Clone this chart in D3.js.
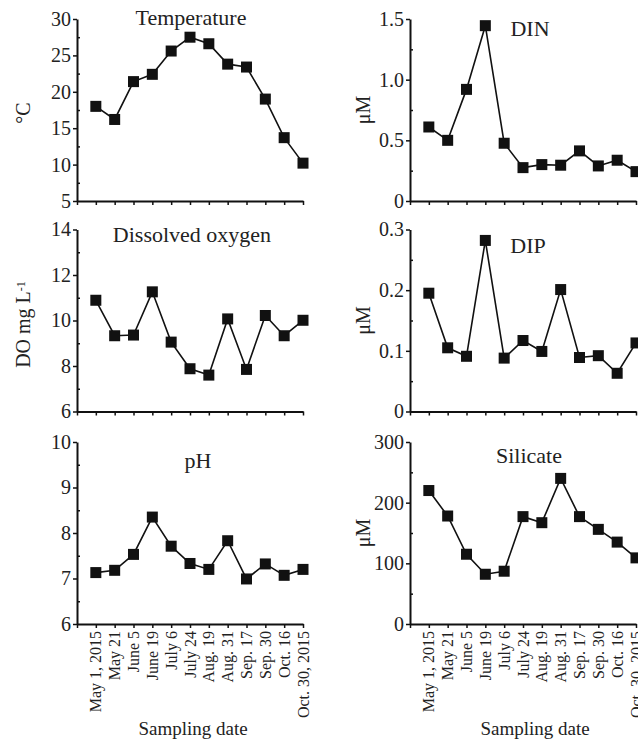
<!DOCTYPE html>
<html>
<head>
<meta charset="utf-8">
<script src="https://cdn.jsdelivr.net/npm/d3@7"></script>
<style>
  body { margin: 0; background: #fff; }
  svg { display: block; font-family: "Liberation Serif", "Times New Roman", serif; }
  svg text { font-family: "Liberation Serif", "Times New Roman", serif; }
</style>
</head>
<body>
<div id="chart"></div>
<script>
(function() {
  var width = 638, height = 739;

  // sampling dates (x categories)
  var dates = ["May 1, 2015", "May 21", "June 5", "June 19", "July 6", "July 24",
    "Aug. 19", "Aug. 31", "Sep. 17", "Sep. 30", "Oct. 16", "Oct. 30, 2015"];

  // series values
  var temperature = [18.0, 16.2, 21.4, 22.4, 25.6, 27.5, 26.6, 23.8, 23.4, 19.0, 13.7, 10.2];
  var din = [0.61, 0.50, 0.92, 1.445, 0.476, 0.275, 0.30, 0.295, 0.413, 0.289, 0.336, 0.242];
  var dissolvedOxygen = [10.89, 9.33, 9.36, 11.26, 9.05, 7.88, 7.6, 10.07, 7.85, 10.22, 9.33, 10.01];
  var dip = [0.195, 0.105, 0.091, 0.282, 0.088, 0.117, 0.099, 0.201, 0.089, 0.092, 0.063, 0.113];
  var ph = [7.13, 7.18, 7.53, 8.35, 7.71, 7.33, 7.2, 7.83, 6.99, 7.32, 7.07, 7.2];
  var silicate = [220, 178, 115, 82, 87, 177, 167, 240, 177, 156, 135, 109];

  // tick labels
  var tempTicks = [5, 10, 15, 20, 25, 30];
  var dinTicks = ["0", "0.5", "1.0", "1.5"];
  var doTicks = [6, 8, 10, 12, 14];
  var dipTicks = ["0", "0.1", "0.2", "0.3"];
  var phTicks = [6, 7, 8, 9, 10];
  var silTicks = [0, 100, 200, 300];

  var panels = [
    { title: "Temperature", values: temperature, ticks: tempTicks, col: 0, row: 0, ylabel: "°C", tx: 191, ty: 25 },
    { title: "DIN", values: din, ticks: dinTicks, col: 1, row: 0, ylabel: "μM", tx: 530, ty: 36 },
    { title: "Dissolved oxygen", values: dissolvedOxygen, ticks: doTicks, col: 0, row: 1, ylabel: "DO", tx: 192, ty: 242 },
    { title: "DIP", values: dip, ticks: dipTicks, col: 1, row: 1, ylabel: "μM", tx: 528, ty: 253 },
    { title: "pH", values: ph, ticks: phTicks, col: 0, row: 2, ylabel: "", tx: 198, ty: 468 },
    { title: "Silicate", values: silicate, ticks: silTicks, col: 1, row: 2, ylabel: "μM", tx: 529, ty: 463 }
  ];

  var colX = [77, 410];
  var plotW = 226;
  var rowY = [[19, 201], [229.5, 411.5], [442, 624]];

  var svg = d3.select("#chart")
    .append("svg")
    .attr("width", width)
    .attr("height", height);

  panels.forEach(function(p) {
    var tickVals = p.ticks.map(Number);
    var x = d3.scaleLinear().domain([0, dates.length]).range([colX[p.col], colX[p.col] + plotW]);
    var y = d3.scaleLinear().domain(d3.extent(tickVals)).range([rowY[p.row][1], rowY[p.row][0]]);
    var step = tickVals[1] - tickVals[0];
    var minor = tickVals.slice(0, -1).map(function(v) { return v + step / 2; });

    var g = svg.append("g");

    // minor ticks pointing inward
    g.append("g")
      .attr("transform", "translate(" + colX[p.col] + ",0)")
      .call(d3.axisRight(y).tickValues(minor).tickSize(3).tickFormat(""))
      .call(function(a) { a.select(".domain").remove(); });

    // y axis
    var yAxis = g.append("g")
      .attr("class", "y-axis")
      .attr("transform", "translate(" + colX[p.col] + ",0)")
      .call(d3.axisLeft(y).tickValues(tickVals).tickSize(4).tickSizeOuter(0).tickPadding(2)
        .tickFormat(function(d, i) { return p.ticks[i]; }));
    yAxis.attr("font-family", null).attr("font-size", 20);

    // x axis
    var xAxis = g.append("g")
      .attr("transform", "translate(0," + rowY[p.row][1] + ")")
      .call(d3.axisBottom(x).tickValues(d3.range(0, dates.length + 1)).tickSize(4).tickSizeOuter(0).tickFormat(""));

    [yAxis, xAxis].forEach(function(a) {
      a.select(".domain").attr("stroke", "#111").attr("stroke-width", 2);
    });
    g.selectAll(".tick line").attr("stroke", "#111").attr("stroke-width", 1.5);
    yAxis.selectAll("text").attr("fill", "#222");

    // line
    var line = d3.line()
      .x(function(d, i) { return x(i + 1); })
      .y(function(d) { return y(d); });

    g.append("path")
      .datum(p.values)
      .attr("d", line)
      .attr("fill", "none")
      .attr("stroke", "#111")
      .attr("stroke-width", 1.6);

    g.selectAll(".marker")
      .data(p.values)
      .enter().append("rect")
      .attr("class", "marker")
      .attr("x", function(d, i) { return x(i + 1) - 5.5; })
      .attr("y", function(d) { return y(d) - 5.5; })
      .attr("width", 11)
      .attr("height", 11)
      .attr("fill", "#111");

    // title
    g.append("text")
      .attr("x", p.tx)
      .attr("y", p.ty)
      .attr("text-anchor", "middle")
      .attr("font-size", 22)
      .attr("fill", "#222")
      .text(p.title);

    // y label
    var cy = (rowY[p.row][0] + rowY[p.row][1]) / 2;
    var lx = p.col === 0 ? 23 : 363;
    if (p.ylabel === "DO") {
      var t = g.append("text")
        .attr("transform", "translate(" + lx + "," + (cy + 4) + ") rotate(-90)")
        .attr("text-anchor", "middle")
        .attr("dy", "0.35em")
        .attr("font-size", 20)
        .attr("fill", "#222");
      t.append("tspan").text("DO mg L");
      t.append("tspan").attr("dy", "-0.45em").attr("font-size", 12).text("-1");
    } else if (p.ylabel) {
      g.append("text")
        .attr("transform", "translate(" + lx + "," + (cy + (p.col === 0 ? 3 : 0)) + ") rotate(-90)")
        .attr("text-anchor", "middle")
        .attr("dy", "0.35em")
        .attr("font-size", 20)
        .attr("fill", "#222")
        .text(p.ylabel);
    }

    // date labels on bottom row
    if (p.row === 2) {
      g.selectAll(".date")
        .data(dates)
        .enter().append("text")
        .attr("class", "date")
        .attr("transform", function(d, i) { return "translate(" + x(i + 1) + "," + 631 + ") rotate(-90)"; })
        .attr("text-anchor", "end")
        .attr("dy", "0.35em")
        .attr("font-size", 16)
        .attr("fill", "#222")
        .text(function(d) { return d; });

      g.append("text")
        .attr("x", p.col === 0 ? 193 : 535)
        .attr("y", 735)
        .attr("text-anchor", "middle")
        .attr("font-size", 19)
        .attr("fill", "#222")
        .text("Sampling date");
    }
  });
})();
</script>
</body>
</html>
